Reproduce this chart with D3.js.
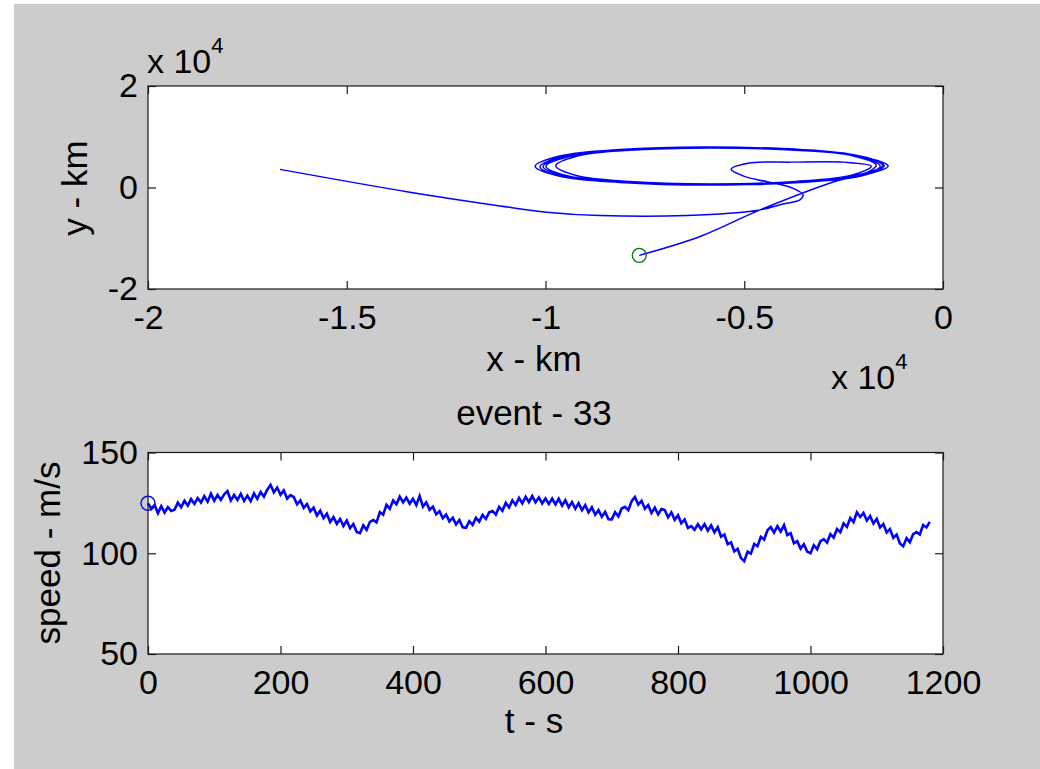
<!DOCTYPE html>
<html><head><meta charset="utf-8">
<script src="https://cdn.jsdelivr.net/npm/d3@7"></script>
<style>
html,body{margin:0;padding:0;background:#fff;}
svg text{font-family:"Liberation Sans",Arial,Helvetica,sans-serif;fill:#000;}
</style></head>
<body>
<svg id="fig" width="1040" height="769"></svg>
<script>
// ---- data (x, y in units of 10^4 km) ----
const trackX = [-0.764,-0.611,-0.460,-0.259,-0.209,
 -0.138,-0.209,-0.360,-0.584,-0.813,-0.964,-1.026,-0.964,-0.813,-0.584,-0.360,-0.209,
 -0.148,-0.215,-0.360,-0.584,-0.810,-0.955,-1.014,-0.955,-0.810,-0.584,-0.360,-0.215,
 -0.158,-0.220,-0.360,-0.584,-0.800,-0.940,-0.999,-0.940,-0.800,-0.584,-0.360,-0.220,
 -0.152,-0.214,-0.362,-0.586,-0.806,-0.948,-1.006,-0.948,-0.806,-0.586,-0.362,-0.214,
 -0.168,-0.230,-0.370,-0.590,-0.790,-0.920,-0.974,-0.920,-0.790,-0.590,-0.370,-0.230,
 -0.180,-0.250,-0.380,-0.490,-0.533,-0.500,-0.443,-0.377,-0.352,-0.360,-0.403,-0.469,
 -0.644,-0.863,-0.997,-1.114,-1.349,-1.668];
const trackY = [-1.337,-0.965,-0.441,0.147,0.225,
 0.42,0.62,0.74,0.80,0.75,0.62,0.42,0.22,0.10,0.05,0.10,0.22,
 0.43,0.63,0.75,0.79,0.74,0.61,0.41,0.21,0.11,0.06,0.11,0.23,
 0.42,0.62,0.73,0.78,0.73,0.61,0.42,0.22,0.12,0.07,0.12,0.24,
 0.43,0.625,0.745,0.795,0.745,0.615,0.415,0.215,0.105,0.055,0.105,0.225,
 0.44,0.63,0.74,0.79,0.74,0.62,0.43,0.23,0.12,0.07,0.12,0.24,
 0.42,0.50,0.50,0.48,0.36,0.22,0.114,-0.016,-0.147,-0.245,-0.324,-0.455,
 -0.553,-0.553,-0.486,-0.363,-0.082,0.357];
const sampleInterval = 5; // s
const speed = [
 124.8,122.1,123.9,119.9, 123.4,120.2,122.9,121.0, 121.6,125.1,122.8,126.0, 123.6,126.9,124.5,127.4, 125.2,128.3,125.6,129.6,
 126.1,128.9,126.5,129.2, 130.8,126.2,128.9,126.4, 129.5,126.0,128.6,125.9, 129.7,127.0,130.4,128.1, 131.5,133.9,130.2,132.6,
 129.0,131.2,127.1,128.8, 127.9,124.3,126.2,122.5, 124.4,120.8,122.6,118.7, 121.1,117.4,119.6,115.5, 117.9,114.6,117.0,113.5,
 116.2,112.4,114.5,110.6, 110.0,113.8,111.6,115.6, 116.5,115.3,120.4,119.2, 124.0,122.1,126.2,124.3, 128.1,125.3,127.6,124.6,
 127.0,123.9,128.4,123.1, 125.3,121.6,123.1,119.3, 120.9,117.4,119.2,115.8, 117.6,114.3,116.5,112.9, 112.6,115.9,114.1,117.6,
 115.7,119.0,117.0,120.3, 121.0,119.2,123.0,121.1, 125.0,122.7,126.3,124.0, 127.4,124.8,128.0,125.4, 128.4,125.3,127.7,124.7,
 127.2,124.4,127.1,124.2, 127.0,123.7,126.3,122.8, 125.4,122.1,124.8,121.4, 123.9,120.3,122.8,119.1, 121.4,118.1,120.5,116.9,
 116.8,120.4,118.3,122.2, 123.0,121.4,125.8,127.9, 124.1,126.0,122.1,123.9, 120.0,122.6,119.3,121.9, 121.4,117.8,120.3,116.6,
 118.9,114.9,116.8,112.6, 113.5,111.6,114.4,111.9, 114.5,111.2,113.8,110.4, 112.9,108.2,109.3,104.5, 105.4,100.9,102.2,97.6,
 96.1,100.8,99.8,104.6, 103.5,108.1,106.8,111.4, 113.0,110.3,113.5,110.8, 114.0,109.0,110.0,105.0, 106.0,102.3,104.5,100.8,
 100.0,104.0,102.0,106.0, 107.0,105.3,109.5,107.8, 112.0,110.4,114.8,113.1, 117.5,115.5,120.3,118.0, 120.0,116.3,118.5,114.8,
 117.0,112.8,114.5,110.3, 112.0,107.6,109.3,104.9, 103.5,107.5,105.5,109.5, 110.5,109.3,114.0,112.8, 115.6];
const topXTicks = [-2,-1.5,-1,-0.5,0];
const topYTicks = [-2,0,2];
const botXTicks = [0,200,400,600,800,1000,1200];
const botYTicks = [50,100,150];
const labels = {x1:"x - km", y1:"y - km", title2:"event - 33", x2:"t - s", y2:"speed - m/s"};

// ---- drawing ----
const svg = d3.select("#fig");
svg.append("rect").attr("x",14).attr("y",4).attr("width",1026).attr("height",765).attr("fill","#cccccc");

const TICKF = 34, LABF = 35;
const fmt = d => String(d);

function axesBox(x, y){
  const [x0,x1] = x.range(), [y1,y0] = y.range();
  const g = svg.append("g");
  g.append("rect").attr("x",x0).attr("y",y0).attr("width",x1-x0).attr("height",y1-y0)
    .attr("fill","#fff");
  return g;
}
function axesFrame(g, x, y, xt, yt){
  const [x0,x1] = x.range(), [y1,y0] = y.range();
  const style = s => { s.select(".domain").remove();
    s.selectAll("line").attr("stroke","#1a1a1a").attr("stroke-width",1.2);
    s.selectAll("text").attr("font-size",TICKF).attr("fill","#000"); };
  g.append("g").attr("transform",`translate(0,${y1})`)
    .call(d3.axisBottom(x).tickValues(xt).tickFormat(fmt).tickSize(-8).tickPadding(16)).call(style);
  g.append("g").attr("transform",`translate(0,${y0})`)
    .call(d3.axisTop(x).tickValues(xt).tickFormat("").tickSize(-8)).call(style);
  g.append("g").attr("transform",`translate(${x0},0)`)
    .call(d3.axisLeft(y).tickValues(yt).tickFormat(fmt).tickSize(-8).tickPadding(10)).call(style);
  g.append("g").attr("transform",`translate(${x1},0)`)
    .call(d3.axisRight(y).tickValues(yt).tickFormat("").tickSize(-8)).call(style);
  g.selectAll("text").attr("font-family",'"Liberation Sans",Arial,sans-serif');
  g.append("rect").attr("x",x0).attr("y",y0).attr("width",x1-x0).attr("height",y1-y0)
    .attr("fill","none").attr("stroke","#1a1a1a").attr("stroke-width",1.2);
}

// top axes
const xT = d3.scaleLinear([-2,0],[148,943]);
const yT = d3.scaleLinear([-2,2],[289,86]);
const gT = axesBox(xT,yT);
gT.append("path").datum(d3.range(trackX.length))
  .attr("d", d3.line().x(i=>xT(trackX[i])).y(i=>yT(trackY[i])).curve(d3.curveCatmullRom.alpha(0.5)))
  .attr("fill","none").attr("stroke","#0000ff").attr("stroke-width",1.5);
gT.append("circle").attr("cx",xT(trackX[0])).attr("cy",yT(trackY[0])).attr("r",7)
  .attr("fill","none").attr("stroke","#008000").attr("stroke-width",1.4);
axesFrame(gT,xT,yT,topXTicks,topYTicks);

// exponent labels
function expLabel(x,y){
  const t = svg.append("text").attr("x",x).attr("y",y).attr("font-size",TICKF);
  t.append("tspan").text("x 10");
  t.append("tspan").attr("dy",-20).attr("font-size",22).text("4");
}
expLabel(147,73);
expLabel(831,389);

svg.append("text").attr("x",534).attr("y",371).attr("text-anchor","middle").attr("font-size",LABF).text(labels.x1);
svg.append("text").attr("transform","translate(87,188) rotate(-90)").attr("text-anchor","middle").attr("font-size",LABF).text(labels.y1);

// bottom axes
const xB = d3.scaleLinear([0,1200],[148,943]);
const yB = d3.scaleLinear([50,150],[654,452.5]);
const gB = axesBox(xB,yB);
gB.append("path").datum(speed)
  .attr("d", d3.line().x((d,i)=>xB(i*sampleInterval)).y(d=>yB(d)))
  .attr("fill","none").attr("stroke","#0000ff").attr("stroke-width",2.6).attr("stroke-linejoin","miter");
gB.append("circle").attr("cx",xB(0)).attr("cy",yB(speed[0])).attr("r",7)
  .attr("fill","none").attr("stroke","#0000ff").attr("stroke-width",1.4);
axesFrame(gB,xB,yB,botXTicks,botYTicks);

svg.append("text").attr("x",534).attr("y",425).attr("text-anchor","middle").attr("font-size",LABF).text(labels.title2);
svg.append("text").attr("x",534).attr("y",733).attr("text-anchor","middle").attr("font-size",LABF).text(labels.x2);
svg.append("text").attr("transform","translate(60,553) rotate(-90)").attr("text-anchor","middle").attr("font-size",LABF).text(labels.y2);
</script>
</body></html>
